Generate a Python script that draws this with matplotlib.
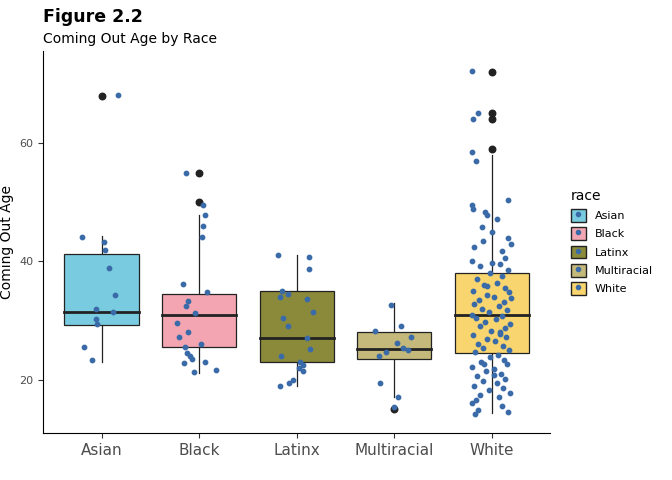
import numpy as np
import matplotlib.pyplot as plt
from matplotlib.patches import Patch
from matplotlib.lines import Line2D

races = ['Asian', 'Black', 'Latinx', 'Multiracial', 'White']
colors = ['#79CCE0', '#F3A6B1', '#8B8A3A', '#C4B87A', '#F8D56F']

# box stats: whisker low, q1, median, q3, whisker high
stats = [
    [23.0, 29.3, 31.5, 41.2, 44.3],
    [21.2, 25.6, 31.0, 34.5, 47.8],
    [19.0, 23.0, 27.1, 35.0, 41.0],
    [17.1, 23.5, 25.2, 28.1, 33.0],
    [14.3, 24.5, 31.0, 38.0, 58.0],
]
outliers = [[68], [50, 55], [], [15], [59, 64, 65, 72]]

# jittered points: (x offset, value)
pts = {
    'Asian': [(0.17, 68.2), (-0.2, 44.2), (0.02, 43.3), (0.04, 42), (0.08, 38.8), (0.14, 34.3),
              (-0.06, 32), (0.12, 31.4), (-0.06, 30.2), (-0.05, 29.5), (-0.18, 25.5), (-0.1, 23.3)],
    'Black': [(-0.13, 55), (0.04, 49.6), (0.06, 47.8), (0.04, 46), (0.03, 44.1), (-0.17, 36.1),
              (0.08, 34.8), (-0.11, 33.3), (-0.13, 32.5), (-0.04, 31.3), (-0.23, 29.6), (-0.11, 28),
              (-0.21, 27.3), (0.02, 26), (-0.14, 25.6), (-0.12, 24.5), (-0.09, 24), (-0.07, 23.5),
              (0.06, 23), (-0.15, 22.8), (0.17, 21.7), (-0.05, 21.3)],
    'Latinx': [(-0.19, 41), (0.13, 40.8), (0.13, 38.7), (-0.15, 35), (-0.09, 34.5), (-0.17, 34),
               (0.11, 33.6), (0.17, 31.5), (-0.14, 30.5), (-0.09, 29), (0.11, 27), (0.14, 25.2),
               (-0.16, 24), (0.03, 23), (0.06, 22.5), (0.02, 22), (0.06, 21.5), (-0.04, 20),
               (-0.08, 19.4), (-0.17, 19)],
    'Multiracial': [(-0.03, 32.6), (0.07, 29), (-0.2, 28.2), (0.17, 27.3), (0.03, 26.2), (0.09, 25.4),
                    (0.14, 25), (-0.08, 24.6), (-0.16, 24), (-0.15, 19.4), (0.04, 17), (0.0, 15.4)],
    'White': [(-0.2, 72.2), (-0.14, 65), (-0.19, 64), (-0.2, 58.5), (-0.16, 57), (0.17, 50.4),
              (-0.2, 49.6), (-0.19, 48.8), (-0.07, 48.3), (-0.05, 47.8), (0.05, 47.2), (-0.1, 45.8),
              (0.17, 44), (0.2, 43), (-0.18, 42.5), (0.1, 41.8), (0.13, 40.5), (-0.2, 40),
              (0.0, 39.8), (0.08, 39.5), (-0.12, 39.2), (0.17, 38.6), (-0.02, 38), (0.1, 37.5),
              (-0.15, 37), (0.05, 36.4), (-0.08, 36), (0.14, 35.5), (-0.19, 35), (0.18, 34.8),
              (-0.05, 34.3), (0.02, 34), (-0.13, 33.5), (0.12, 33.2), (-0.18, 32.8), (0.07, 32.5),
              (-0.1, 32), (0.16, 31.7), (-0.03, 31.4), (0.1, 30.8), (-0.16, 30.5), (0.04, 30.2),
              (-0.07, 29.8), (0.19, 29.5), (-0.12, 29), (0.13, 28.7), (-0.01, 28.3), (0.08, 28),
              (-0.19, 27.6), (0.15, 27.2), (-0.05, 26.8), (0.03, 26.5), (-0.14, 26.1), (0.11, 25.7),
              (-0.09, 25.3), (0.18, 25), (-0.17, 24.6), (0.06, 24.2), (-0.02, 23.8), (0.12, 23.4),
              (-0.11, 23), (0.16, 22.6), (-0.2, 22.2), (0.02, 21.8), (-0.06, 21.4), (0.09, 21),
              (-0.15, 20.6), (0.14, 20.2), (-0.09, 19.8), (0.05, 19.4), (-0.18, 19), (0.11, 18.6),
              (-0.03, 18.2), (0.19, 17.8), (-0.12, 17.4), (0.07, 17), (-0.16, 16.5), (-0.2, 16),
              (0.1, 15.5), (-0.14, 14.8), (0.17, 14.6), (-0.17, 14.2), (-0.09, 43.5), (0.0, 45),
              (-0.05, 35.8), (0.2, 33.8), (-0.2, 31), (0.08, 27.8), (-0.08, 22.7), (0.02, 20.8)],
}

fig = plt.figure(figsize=(6.72, 4.8), dpi=100)
ax = fig.add_axes([0.064, 0.098, 0.755, 0.795])

for i, r in enumerate(races):
    lo, q1, med, q3, hi = stats[i]
    w = 0.38
    ax.plot([i, i], [lo, q1], color='#222222', lw=0.9, zorder=1)
    ax.plot([i, i], [q3, hi], color='#222222', lw=0.9, zorder=1)
    ax.add_patch(plt.Rectangle((i - w, q1), 2 * w, q3 - q1, facecolor=colors[i],
                               edgecolor='#222222', lw=0.9, zorder=2))
    ax.plot([i - w, i + w], [med, med], color='#222222', lw=2, zorder=3)
    ax.scatter([i] * len(outliers[i]), outliers[i], color='#222222', s=22, zorder=3)
    p = np.array(pts[r])
    ax.scatter(i + p[:, 0], p[:, 1], color='#3A6BA8', s=10, zorder=4)

ax.set_xlim(-0.6, 4.6)
ax.set_ylim(11, 75.5)
ax.set_xticks(range(5))
ax.set_xticklabels(races, fontsize=11, color='#4d4d4d')
ax.set_yticks([20, 40, 60])
ax.tick_params(axis='y', labelsize=8, colors='#4d4d4d')
ax.tick_params(axis='both', color='#333333')
ax.set_ylabel('Coming Out Age', fontsize=10)
for s in ['top', 'right']:
    ax.spines[s].set_visible(False)

fig.text(0.064, 0.955, 'Figure 2.2', fontsize=12.5, fontweight='bold')
fig.text(0.064, 0.91, 'Coming Out Age by Race', fontsize=10)

handles = [(Patch(facecolor=c, edgecolor='#222222'),
            Line2D([], [], marker='o', color='#3A6BA8', ls='', markersize=3)) for c in colors]
leg = ax.legend(handles, races, title='race', loc='center left', bbox_to_anchor=(1.02, 0.5),
                frameon=False, fontsize=8, title_fontsize=10, handlelength=1.4, handleheight=1.4)
leg._legend_box.align = 'left'

fig.savefig('out.png')
